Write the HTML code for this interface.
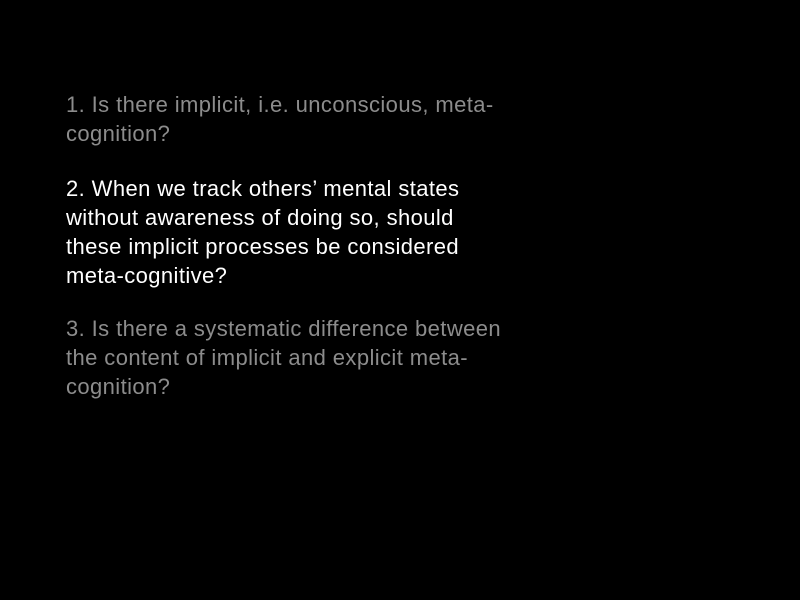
<!DOCTYPE html>
<html><head><meta charset="utf-8"><style>
html,body{margin:0;padding:0;background:#000;width:800px;height:600px;overflow:hidden}
.t{position:absolute;left:66px;font-family:"Liberation Sans",sans-serif;font-size:22px;letter-spacing:0.4px;line-height:29px;white-space:nowrap}
.g{color:#8c8c8c}.w{color:#fff}
</style></head><body>
<div class="t g" style="top:90px">1. Is there implicit, i.e. unconscious, meta-<br>cognition?</div>
<div class="t w" style="top:174px">2. When we track others’ mental states<br>without awareness of doing so, should<br>these implicit processes be considered<br>meta-cognitive?</div>
<div class="t g" style="top:314px">3. Is there a systematic difference between<br>the content of implicit and explicit meta-<br>cognition?</div>
</body></html>
